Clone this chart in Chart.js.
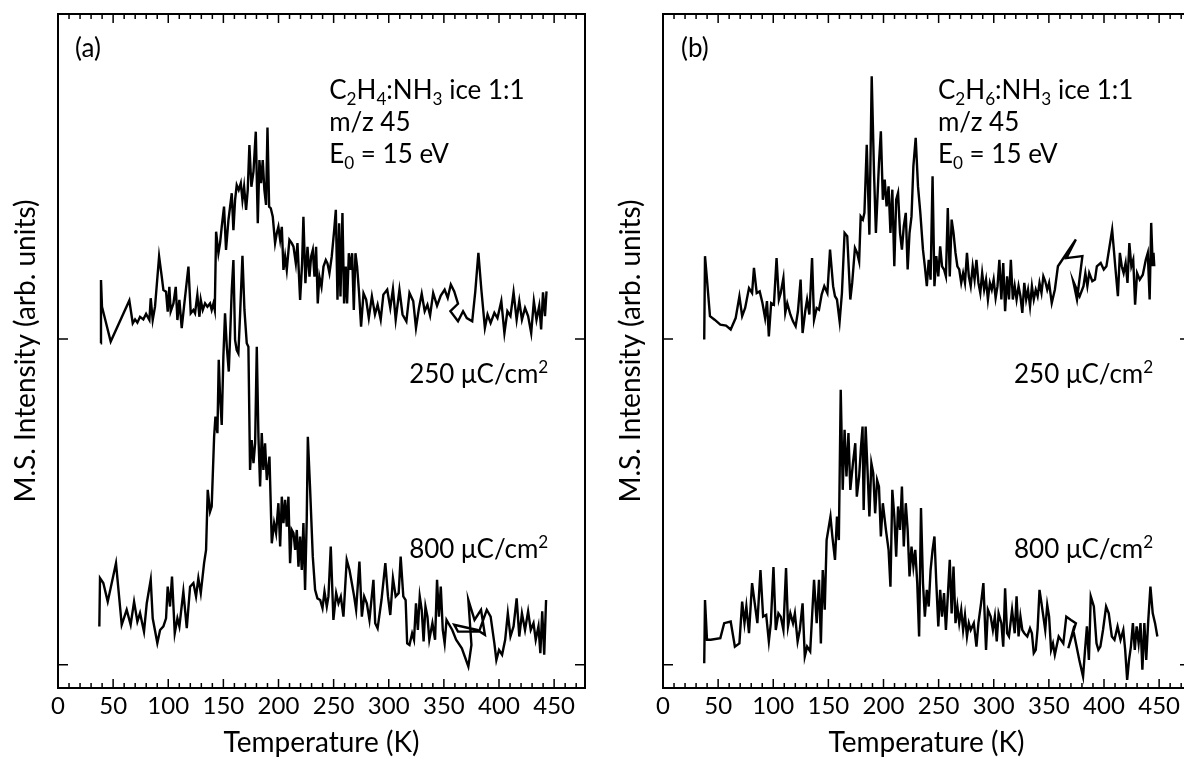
<!DOCTYPE html>
<html>
<head>
<meta charset="utf-8">
<script src="https://cdn.jsdelivr.net/npm/chart.js@4.4.1/dist/chart.umd.min.js"></script>
<style>
  html, body { margin: 0; padding: 0; background: #fff; overflow: hidden; }
  #wrap { position: relative; width: 1184px; height: 758px; overflow: hidden; }
  .panel { position: absolute; top: 0; width: 600px; height: 758px; }
  #panelA { left: 0; }
  #panelB { left: 605px; }
</style>
</head>
<body>
<div id="wrap">
  <div class="panel" id="panelA"><canvas id="chartA" width="600" height="758"></canvas></div>
  <div class="panel" id="panelB"><canvas id="chartB" width="600" height="758"></canvas></div>
</div>
<script>
// (a) C2H4:NH3, 250 uC/cm2 -- temperature (K) / signal (arb. units)
const tempA250 = [
  38.7, 39.0, 39.9, 47.8, 64.7, 67.8, 69.9, 72.0, 74.4, 77.4,
  79.9, 82.9, 84.1, 85.9, 88.0, 91.7, 94.1, 95.6, 98.0, 99.5,
  101.0, 102.2, 104.7, 106.8, 108.3, 110.1, 112.2, 114.3, 118.3, 120.4,
  122.8, 124.3, 126.4, 128.3, 129.5, 131.3, 133.4, 135.5, 137.9, 139.4,
  141.0, 142.2, 143.4, 145.5, 147.0, 148.5, 150.6, 152.4, 154.6, 156.1,
  157.6, 159.1, 160.6, 162.1, 163.9, 165.8, 167.3, 168.8, 170.6, 172.1,
  173.6, 175.4, 177.3, 179.4, 181.2, 182.7, 184.2, 185.7, 187.2, 188.7,
  190.0, 191.5, 193.0, 194.8, 196.9, 198.4, 199.9, 201.5, 203.0, 204.5,
  206.0, 207.5, 209.9, 212.0, 213.6, 215.7, 217.2, 219.6, 221.4, 222.6,
  224.4, 226.3, 228.1, 229.6, 231.1, 232.6, 234.1, 235.6, 237.1, 239.0,
  240.8, 242.9, 244.4, 246.2, 248.3, 250.5, 252.0, 253.5, 255.0, 256.2,
  258.0, 259.5, 261.0, 262.2, 263.8, 265.3, 266.8, 268.3, 269.8, 271.3,
  273.1, 274.9, 277.1, 279.5, 281.9, 284.7, 287.5, 289.9, 292.7, 295.1,
  298.6, 301.4, 303.8, 306.3, 309.7, 312.5, 316.0, 318.8, 322.2, 324.7,
  327.4, 329.9, 332.6, 335.1, 337.5, 340.3, 343.8, 347.2, 350.7, 353.5,
  356.3, 359.4, 362.8, 355.9, 362.8, 367.4, 370.8, 375.7, 378.5, 381.3,
  384.0, 387.2, 389.6, 392.4, 395.8, 398.6, 402.1, 404.9, 407.6, 410.4,
  413.2, 416.0, 418.4, 420.8, 423.6, 426.4, 429.2, 431.6, 434.0, 436.5,
  438.2, 439.9, 441.7, 443.1
];
const sigA250 = [
  -1.3, 18.1, 9.9, -0.8, 11.8, 4.8, 6.0, 5.0, 6.8, 6.0,
  7.7, 5.8, 12.5, 5.8, 9.9, 25.3, 19.1, 15.0, 14.5, 8.4,
  16.0, 8.4, 10.9, 16.0, 5.8, 12.0, 3.3, 9.9, 22.2, 7.9,
  8.9, 7.9, 13.5, 6.8, 12.0, 8.9, 10.9, 9.9, 10.9, 8.9,
  10.9, 8.9, 32.9, 26.3, 29.4, 34.4, 40.6, 27.3, 36.5, 40.6,
  44.7, 33.4, 42.6, 47.2, 45.7, 47.8, 42.6, 46.7, 39.6, 45.7,
  59.5, 46.7, 51.3, 63.6, 35.5, 54.9, 47.8, 54.9, 45.7, 41.1,
  64.9, 40.6, 40.1, 37.5, 29.4, 32.4, 34.4, 30.4, 34.4, 21.2,
  25.3, 21.2, 30.4, 29.4, 28.3, 23.2, 29.4, 12.0, 23.2, 37.5,
  17.1, 28.3, 19.1, 25.3, 27.3, 19.1, 28.3, 10.9, 19.1, 16.0,
  22.2, 24.2, 23.2, 20.2, 25.3, 33.4, 39.6, 12.0, 35.5, 13.0,
  38.6, 10.9, 22.2, 10.9, 26.3, 21.2, 26.3, 8.9, 26.3, 22.2,
  14.0, 3.8, 14.0, 12.1, 6.4, 13.1, 7.5, 10.5, 5.9, 13.6,
  15.1, 9.5, 15.3, 5.9, 15.1, 7.5, 5.4, 14.1, 11.6, 3.4,
  9.5, 13.9, 8.5, 10.5, 7.2, 14.1, 10.2, 13.3, 15.1, 12.6,
  16.7, 14.6, 10.8, 8.5, 5.4, 8.5, 6.4, 5.4, 14.6, 26.4,
  15.1, 3.4, 7.5, 4.9, 8.0, 6.4, 11.6, 1.8, 8.5, 7.0,
  14.3, 5.9, 11.6, 5.9, 9.5, 7.0, 1.8, 11.6, 5.9, 10.2,
  2.9, 14.3, 7.0, 14.6
];

// (a) C2H4:NH3, 800 uC/cm2
const tempA800 = [
  37.5, 38.1, 41.1, 45.1, 52.6, 57.8, 62.3, 65.9, 69.0, 72.0,
  74.4, 78.0, 80.5, 84.1, 85.9, 90.1, 92.6, 95.6, 98.0, 99.5,
  101.6, 103.4, 105.9, 108.3, 110.1, 113.7, 116.8, 119.8, 122.8, 125.2,
  127.3, 129.5, 132.5, 134.3, 135.8, 137.9, 139.4, 141.6, 142.8, 144.6,
  145.8, 147.0, 148.5, 150.0, 151.5, 153.1, 154.9, 156.1, 157.6, 159.1,
  160.6, 162.1, 163.6, 165.2, 167.3, 169.1, 171.2, 172.7, 174.2, 175.7,
  177.3, 178.8, 180.3, 181.8, 183.3, 184.8, 186.3, 187.8, 189.4, 191.8,
  193.9, 196.0, 197.8, 199.9, 201.5, 203.0, 204.5, 206.0, 207.5, 209.0,
  210.5, 212.0, 213.6, 215.1, 216.6, 218.1, 219.6, 221.1, 222.6, 224.1,
  225.6, 226.6, 228.7, 231.1, 233.2, 235.3, 237.8, 239.9, 241.7, 243.8,
  245.3, 247.4, 249.8, 252.3, 254.4, 256.5, 258.9, 261.9, 264.4, 266.5,
  268.6, 270.4, 273.4, 275.6, 277.7, 280.1, 282.5, 286.1, 287.7, 289.9,
  293.4, 296.9, 299.3, 301.4, 303.8, 306.3, 309.0, 310.8, 313.2, 315.3,
  316.7, 318.8, 321.2, 322.9, 324.7, 326.4, 328.1, 329.9, 331.6, 333.3,
  335.1, 336.8, 339.6, 342.0, 343.8, 345.5, 347.2, 349.0, 350.7, 352.4,
  357.6, 361.1, 366.3, 372.2, 375.0, 372.2, 377.8, 383.7, 387.2, 380.2,
  359.4, 362.8, 381.9, 388.9, 392.4, 395.8, 397.6, 400.0, 402.8, 405.6,
  408.0, 410.4, 413.2, 416.0, 418.4, 420.8, 423.6, 426.4, 428.8, 431.3,
  433.3, 435.8, 437.5, 439.2, 441.0, 442.7
];
const sigA800 = [
  11.8, 26.6, 25.1, 19.4, 31.2, 12.3, 16.9, 12.3, 19.4, 13.3,
  15.9, 10.2, 18.9, 26.1, 14.3, 6.7, 10.7, 11.8, 14.3, 24.0,
  17.9, 27.1, 9.7, 14.3, 11.8, 22.5, 11.3, 24.0, 25.1, 21.0,
  26.6, 22.0, 31.2, 35.3, 53.7, 47.0, 48.6, 70.0, 76.2, 71.1,
  93.6, 82.3, 73.6, 94.6, 107.9, 97.6, 90.0, 100.7, 115.0, 124.2,
  99.7, 96.6, 95.6, 107.9, 125.5, 108.9, 98.7, 97.6, 59.8, 69.0,
  61.9, 68.0, 97.6, 70.0, 54.7, 71.1, 59.8, 68.0, 56.7, 63.9,
  37.3, 43.5, 40.4, 49.6, 36.3, 51.6, 43.5, 50.6, 42.4, 51.6,
  31.2, 41.4, 40.4, 35.3, 41.4, 30.1, 39.4, 29.1, 43.5, 23.0,
  44.5, 70.0, 53.7, 33.2, 23.0, 20.4, 19.9, 17.4, 22.5, 17.9,
  21.0, 36.3, 13.8, 22.0, 18.9, 21.0, 14.8, 32.2, 29.1, 25.1,
  21.0, 16.9, 31.7, 14.8, 21.0, 18.9, 13.8, 26.1, 12.8, 11.2,
  19.9, 31.2, 21.0, 15.3, 26.6, 21.0, 22.0, 33.2, 21.0, 19.9,
  6.6, 6.1, 9.7, 7.7, 18.9, 10.7, 21.0, 16.9, 7.2, 17.9,
  14.8, 7.7, 12.8, 7.7, 26.1, 14.8, 24.0, 10.7, 6.6, 13.8,
  10.7, 7.7, 5.1, -0.5, 6.1, 19.9, 13.8, 16.9, 9.2, 10.7,
  12.3, 10.2, 10.2, 16.9, 14.8, 6.6, 1.5, 4.6, 3.1, 7.7,
  15.8, 8.7, 11.8, 20.4, 8.7, 15.8, 10.7, 16.4, 10.7, 12.8,
  7.7, 11.8, 3.6, 16.4, 3.1, 19.9
];

// (b) C2H6:NH3, 250 uC/cm2
const tempB250 = [
  37.4, 38.1, 39.9, 42.6, 46.8, 52.0, 57.2, 61.4, 65.9, 69.3,
  71.8, 74.5, 78.0, 80.8, 82.5, 85.0, 87.7, 90.2, 92.6, 94.3,
  96.0, 98.1, 100.6, 103.0, 105.1, 106.8, 109.2, 110.9, 112.7, 115.5,
  117.9, 120.3, 122.4, 124.8, 126.6, 129.0, 130.7, 132.8, 135.2, 137.0,
  139.4, 141.5, 143.9, 146.3, 149.1, 151.5, 154.3, 156.0, 157.8, 160.2,
  162.3, 164.7, 167.1, 169.9, 171.6, 174.1, 176.1, 177.9, 179.3, 181.3,
  182.7, 184.8, 187.2, 189.3, 191.4, 193.1, 195.9, 197.6, 199.4, 201.1,
  202.8, 204.6, 206.3, 208.0, 209.8, 211.5, 213.2, 215.0, 216.7, 218.4,
  220.2, 221.9, 223.6, 225.4, 227.1, 229.2, 231.3, 233.4, 235.8, 237.5,
  239.3, 241.0, 242.7, 244.5, 246.2, 247.9, 249.7, 251.4, 253.1, 254.9,
  256.6, 258.3, 260.1, 261.8, 263.5, 265.3, 267.0, 268.7, 270.5, 272.2,
  273.9, 275.7, 277.4, 279.1, 280.9, 282.6, 284.3, 286.1, 287.8, 289.5,
  291.3, 293.0, 294.7, 296.5, 298.2, 299.9, 301.7, 303.4, 305.1, 306.9,
  308.6, 310.3, 312.1, 313.8, 315.5, 317.3, 319.0, 320.7, 322.5, 324.2,
  325.9, 327.7, 329.4, 331.1, 332.9, 334.6, 336.3, 338.1, 339.8, 341.5,
  343.3, 345.0, 346.7, 348.5, 350.2, 352.6, 355.4, 358.2, 374.5, 365.8,
  380.4, 375.5, 372.1, 377.9, 381.4, 383.1, 384.9, 386.6, 389.4, 391.8,
  393.5, 397.0, 399.8, 402.2, 407.4, 410.2, 412.6, 414.4, 416.1, 417.8,
  419.6, 421.3, 423.0, 424.8, 426.5, 428.2, 430.0, 432.4, 435.2, 437.9,
  439.7, 441.4, 442.8, 444.2, 444.9, 445.6
];
const sigB250 = [
  -0.2, 25.4, 18.2, 7.0, 5.9, 4.4, 4.1, 2.9, 6.4, 13.1,
  7.0, 9.5, 15.6, 14.1, 21.8, 14.1, 14.6, 11.0, 6.4, 11.6,
  0.8, 11.0, 10.5, 24.8, 12.1, 14.1, 18.7, 8.0, 11.0, 7.5,
  5.4, 3.9, 8.5, 18.2, 1.8, 8.5, 12.1, 7.5, 24.8, 5.9,
  9.5, 9.0, 13.6, 16.2, 14.1, 27.4, 16.2, 13.1, 12.1, 5.4,
  14.1, 32.5, 31.5, 12.1, 17.2, 27.9, 26.4, 23.8, 37.6, 36.6,
  38.7, 59.6, 32.0, 80.6, 50.9, 32.5, 54.0, 63.7, 42.7, 48.9,
  40.7, 46.8, 32.5, 45.8, 22.3, 42.7, 44.8, 32.5, 27.4, 34.6,
  38.7, 21.3, 32.5, 37.6, 53.0, 61.7, 46.8, 38.7, 27.4, 22.3,
  16.2, 24.3, 18.2, 49.9, 16.2, 25.4, 19.2, 28.4, 22.3, 21.3,
  19.2, 40.2, 19.2, 36.6, 32.5, 26.4, 22.3, 21.3, 17.2, 20.2,
  17.2, 26.4, 19.2, 16.2, 22.3, 18.2, 24.3, 17.2, 14.1, 20.2,
  15.1, 18.2, 12.1, 17.2, 15.1, 18.2, 12.6, 16.2, 24.3, 12.1,
  23.3, 8.5, 19.2, 12.1, 24.3, 12.1, 16.2, 12.1, 16.2, 13.1,
  8.0, 17.2, 12.1, 15.1, 10.0, 16.2, 12.1, 15.1, 13.1, 17.2,
  14.1, 19.2, 17.7, 15.1, 17.2, 11.0, 15.1, 22.3, 30.5, 24.8,
  25.4, 12.1, 17.7, 13.1, 16.2, 20.2, 16.2, 20.2, 17.7, 18.2,
  22.3, 23.3, 21.3, 22.3, 33.5, 22.3, 13.1, 26.4, 22.3, 20.2,
  23.3, 17.2, 29.4, 22.3, 24.3, 10.5, 20.2, 18.2, 19.7, 24.3,
  26.4, 12.1, 35.6, 22.3, 26.4, 22.3
];

// (b) C2H6:NH3, 800 uC/cm2
const tempB800 = [
  37.4, 38.1, 39.9, 43.3, 52.0, 55.5, 61.4, 65.2, 69.3, 71.8,
  73.9, 75.6, 78.0, 80.8, 83.2, 85.6, 88.4, 90.8, 93.6, 96.0,
  97.8, 100.2, 102.3, 104.7, 106.8, 109.2, 111.6, 113.4, 115.5, 117.9,
  119.6, 122.1, 124.1, 126.6, 128.6, 130.7, 133.5, 137.0, 139.4, 141.5,
  143.2, 144.9, 146.7, 148.4, 151.9, 153.6, 156.0, 157.8, 159.5, 161.2,
  163.0, 164.7, 166.4, 168.2, 169.9, 172.3, 174.4, 175.8, 177.9, 179.6,
  181.0, 182.0, 183.8, 185.5, 187.2, 189.0, 190.7, 192.4, 194.2, 195.9,
  197.6, 199.4, 202.2, 204.6, 206.3, 208.0, 209.8, 211.5, 213.2, 215.0,
  216.7, 218.4, 220.2, 221.9, 223.6, 225.4, 227.1, 228.8, 230.6, 232.3,
  234.0, 235.8, 237.5, 239.3, 241.0, 242.7, 244.5, 246.2, 247.9, 249.7,
  251.4, 253.1, 254.9, 256.6, 258.3, 260.1, 261.8, 263.5, 265.3, 267.0,
  268.7, 270.5, 272.2, 273.9, 275.7, 277.4, 279.1, 281.9, 284.3, 286.1,
  288.5, 290.6, 293.0, 294.7, 297.2, 299.2, 301.0, 302.7, 304.4, 306.9,
  308.6, 310.3, 312.1, 313.8, 316.6, 319.0, 320.7, 322.5, 324.2, 325.9,
  327.7, 330.4, 332.9, 334.6, 336.3, 338.1, 339.8, 341.5, 343.3, 345.0,
  346.7, 348.5, 350.2, 352.0, 353.7, 355.4, 358.9, 363.1, 365.8, 370.0,
  374.5, 367.6, 372.1, 377.6, 381.0, 382.8, 384.5, 386.3, 388.0, 390.8,
  393.2, 394.9, 396.7, 399.1, 401.9, 404.3, 407.1, 409.5, 412.3, 415.0,
  417.5, 419.2, 421.0, 422.7, 424.4, 426.2, 427.9, 429.6, 431.4, 433.1,
  434.8, 436.6, 438.3, 440.0, 442.1, 444.2, 446.3, 448.4
];
const sigB800 = [
  0.5, 19.9, 7.7, 7.7, 8.2, 12.8, 13.3, 5.6, 6.6, 19.4,
  12.8, 17.9, 9.7, 25.1, 18.9, 12.8, 29.1, 14.8, 15.3, 7.2,
  12.8, 30.0, 10.7, 15.8, 14.8, 10.7, 29.7, 11.8, 15.8, 12.8,
  15.8, 7.2, 10.7, 18.9, 2.6, 5.6, 4.1, 26.1, 12.8, 26.1,
  6.6, 29.1, 16.9, 38.3, 45.5, 39.4, 32.2, 45.5, 38.3, 84.4,
  53.7, 72.1, 57.8, 71.1, 53.7, 61.9, 68.0, 51.6, 57.8, 67.0,
  73.1, 47.5, 73.1, 59.8, 45.5, 61.9, 58.8, 46.5, 56.7, 54.7,
  39.4, 49.6, 41.4, 35.3, 24.0, 53.7, 45.5, 33.2, 48.6, 41.4,
  54.7, 36.3, 49.6, 41.4, 27.1, 36.3, 30.2, 35.3, 25.1, 8.7,
  48.1, 25.1, 14.8, 23.0, 17.9, 29.1, 35.3, 39.4, 25.1, 11.8,
  23.0, 14.8, 22.0, 10.7, 21.0, 32.2, 15.8, 30.2, 12.8, 17.9,
  12.8, 16.9, 10.7, 15.3, 8.7, 12.8, 10.7, 12.8, 5.6, 12.8,
  18.9, 25.1, 4.6, 16.9, 14.8, 10.7, 14.8, 7.2, 15.8, 12.8,
  5.6, 23.5, 9.7, 8.7, 16.9, 9.7, 21.0, 8.7, 14.8, 10.7,
  9.7, 8.7, 11.2, 9.7, 3.6, 4.6, 11.2, 23.0, 18.9, 14.8,
  10.7, 18.4, 14.8, 4.6, 6.6, 3.1, 8.7, 6.6, 14.8, 13.8,
  12.8, 5.1, 10.7, 1.5, -3.6, 4.6, 11.8, 1.5, 21.0, 17.9,
  6.6, 4.6, 5.6, 10.7, 17.9, 15.8, 8.7, 7.7, 11.8, 7.7,
  10.7, 4.6, -4.6, 1.5, 5.6, 12.8, 4.6, 11.8, 6.6, 12.8,
  -1.5, 12.8, 1.5, 12.8, 24.0, 15.8, 12.8, 8.7
];

const OFFSET = 100;          // the 250 uC/cm2 trace is stacked on top
const yTicks = [0, OFFSET];  // baseline marks of the two traces
const Y_MIN = -7.1, Y_MAX = 199.7;
const X_MAX = 478;
const MAJOR = 50, MINOR = 10;
const FONT = 'Lato';
const NOTE_SIZE = 26;

function pts(temps, sig, shift) {
  return temps.map((t, i) => ({ x: t, y: sig[i] + shift }));
}

function drawRich(ctx, parts, x, y, size) {
  let cx = x;
  parts.forEach(([txt, kind]) => {
    const s = kind ? size * 0.66 : size;
    ctx.font = s + 'px ' + FONT;
    const dy = kind === 'sub' ? size * 0.24 : kind === 'sup' ? -size * 0.36 : 0;
    ctx.fillText(txt, cx, y + dy);
    cx += ctx.measureText(txt).width;
  });
}

// frame with inward ticks on all sides + text labels
function framePlugin(notes) {
  return {
    id: 'frame',
    afterDraw(chart) {
      const { ctx, chartArea: a, scales: { x, y } } = chart;
      ctx.save();
      ctx.strokeStyle = '#000';
      ctx.lineWidth = 2;
      ctx.strokeRect(a.left, a.top, a.right - a.left, a.bottom - a.top);
      ctx.lineWidth = 1.5;
      ctx.beginPath();
      for (let t = 0; t <= X_MAX; t += MINOR) {
        const px = x.getPixelForValue(t);
        const len = t % MAJOR === 0 ? 9 : 5;
        ctx.moveTo(px, a.bottom); ctx.lineTo(px, a.bottom - len);
        ctx.moveTo(px, a.top); ctx.lineTo(px, a.top + len);
      }
      yTicks.forEach(v => {
        const py = y.getPixelForValue(v);
        ctx.moveTo(a.left, py); ctx.lineTo(a.left + 10, py);
        ctx.moveTo(a.right, py); ctx.lineTo(a.right - 10, py);
      });
      ctx.stroke();

      ctx.fillStyle = '#000';
      ctx.textBaseline = 'alphabetic';
      ctx.textAlign = 'left';
      notes.forEach(n => {
        drawRich(ctx, n.parts, x.getPixelForValue(n.t), y.getPixelForValue(n.v), NOTE_SIZE);
      });
      ctx.restore();
    }
  };
}

const lineStyle = { borderColor: '#000', borderWidth: 2.4, pointRadius: 0, tension: 0, fill: false };

function makeChart(id, upper, lower, notes) {
  return new Chart(document.getElementById(id), {
    type: 'line',
    data: {
      datasets: [
        Object.assign({ data: upper }, lineStyle),
        Object.assign({ data: lower }, lineStyle)
      ]
    },
    options: {
      responsive: false,
      animation: false,
      devicePixelRatio: 1,
      layout: { padding: { top: 14, right: 15, left: 0, bottom: 0 } },
      plugins: { legend: { display: false }, tooltip: { enabled: false } },
      scales: {
        x: {
          type: 'linear', min: 0, max: X_MAX,
          afterFit: s => { s.height = 70; },
          grid: { display: false, drawTicks: false },
          border: { display: false },
          ticks: {
            stepSize: MINOR, autoSkip: false, maxRotation: 0, padding: 4, color: '#000',
            font: { family: FONT, size: 24 },
            callback: v => (v % MAJOR === 0 ? String(v) : '')
          },
          title: { display: true, text: 'Temperature (K)', color: '#000',
                   font: { family: FONT, size: 28, lineHeight: 1 }, padding: { top: 0, bottom: 1 } }
        },
        y: {
          min: Y_MIN, max: Y_MAX,
          afterFit: s => { s.width = 58; },
          grid: { display: false, drawTicks: false },
          border: { display: false },
          ticks: { display: false },
          title: { display: true, text: 'M.S. Intensity (arb. units)', color: '#000',
                   font: { family: FONT, size: 28, lineHeight: 1 }, padding: { top: 12, bottom: 0 } }
        }
      }
    },
    plugins: [framePlugin(notes)]
  });
}

const dose250 = [['250 \u03bcC/cm'], ['2', 'sup']];
const dose800 = [['800 \u03bcC/cm'], ['2', 'sup']];

makeChart('chartA', pts(tempA250, sigA250, OFFSET), pts(tempA800, sigA800, 0), [
  { t: 15.4, v: 186.5, parts: [['(a)']] },
  { t: 246, v: 173.6, parts: [['C'], ['2', 'sub'], ['H'], ['4', 'sub'], [':NH'], ['3', 'sub'], [' ice 1:1']] },
  { t: 246, v: 163.8, parts: [['m/z 45']] },
  { t: 246, v: 154.0, parts: [['E'], ['0', 'sub'], [' = 15 eV']] },
  { t: 318.5, v: 86.6, parts: dose250 },
  { t: 318.5, v: 32.9, parts: dose800 }
]);

makeChart('chartB', pts(tempB250, sigB250, OFFSET), pts(tempB800, sigB800, 0), [
  { t: 16.3, v: 186.5, parts: [['(b)']] },
  { t: 249.4, v: 173.6, parts: [['C'], ['2', 'sub'], ['H'], ['6', 'sub'], [':NH'], ['3', 'sub'], [' ice 1:1']] },
  { t: 249.4, v: 163.8, parts: [['m/z 45']] },
  { t: 249.4, v: 154.0, parts: [['E'], ['0', 'sub'], [' = 15 eV']] },
  { t: 318.4, v: 86.6, parts: dose250 },
  { t: 318.4, v: 32.9, parts: dose800 }
]);
</script>
</body>
</html>
